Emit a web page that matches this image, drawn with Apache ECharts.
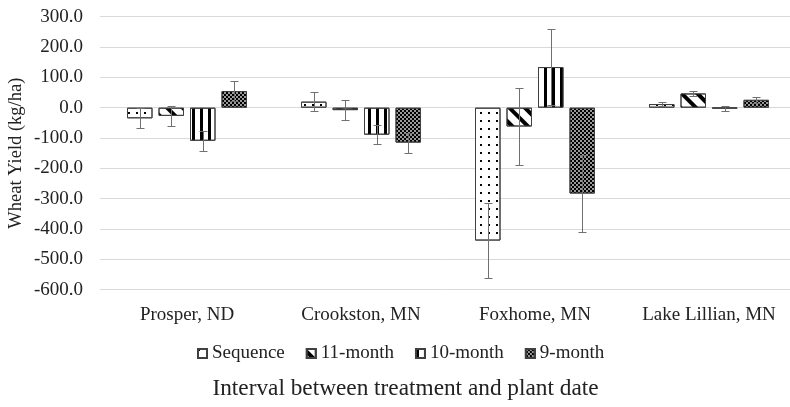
<!DOCTYPE html>
<html><head><meta charset="utf-8">
<script src="https://cdn.jsdelivr.net/npm/echarts@6/dist/echarts.min.js"></script>
<style>html,body{margin:0;padding:0;background:#fff}#c{width:790px;height:407px}</style>
</head><body><div id="c"></div>
<script>
const categories = ['Prosper, ND', 'Crookston, MN', 'Foxhome, MN', 'Lake Lillian, MN'];
const seriesNames = ['Sequence', '11-month', '10-month', '9-month'];
const sequence = [-35, 20, -438, 12];
const month11 = [-27, -8, -62, 47];
const month10 = [-109, -89, 134, -2];
const month9 = [55, -115, -283, 26];
const errSequence = [33, 32.5, 125, 8];
const err11 = [33, 32, 125.5, 8.5];
const err10 = [33.5, 32, 126, 8];
const err9 = [32, 33, 126, 9];
const yMin = -600, yMax = 300, yStep = 100;

const FONT = 'Liberation Serif';
const BAR_W = 25.5, BAR_GAP = 6;
const values = [sequence, month11, month10, month9];
const errs = [errSequence, err11, err10, err9];
const fills = ['#fff', '#fff', '#fff', '#999'];
const decals = [
  { symbol: 'rect', symbolSize: 1, color: '#000', dashArrayX: [1.5, 6], dashArrayY: [1.5, 6] },
  { symbol: 'rect', symbolSize: 1, color: '#000', dashArrayX: [1, 0], dashArrayY: [4, 6.5], rotation: Math.PI / 4 },
  { symbol: 'rect', symbolSize: 1, color: '#000', dashArrayX: [2.5, 4.2], dashArrayY: [1, 0] },
  { symbol: 'rect', symbolSize: 1, color: '#000', dashArrayX: [[1.5, 1.5], [0, 1.5, 1.5, 0]], dashArrayY: [1.5, 0] }
];

const series = [];
seriesNames.forEach((n, i) => {
  series.push({
    name: n, type: 'bar', data: values[i],
    barWidth: BAR_W, barGap: (BAR_GAP / BAR_W * 100) + '%',
    itemStyle: { color: fills[i], borderColor: '#404040', borderWidth: 1, decal: decals[i] },
    emphasis: { disabled: true }, animation: false
  });
});
seriesNames.forEach((n, i) => {
  const off = (i - 1.5) * (BAR_W + BAR_GAP);
  series.push({
    name: 'err-' + n, type: 'custom', z: 10, animation: false, silent: true,
    data: values[i].map((v, k) => [k, v, errs[i][k]]),
    renderItem: function (params, api) {
      const k = api.value(0), v = api.value(1), e = api.value(2);
      const top = api.coord([k, v + e]);
      const bot = api.coord([k, v - e]);
      const x = Math.round(top[0] + off) + 0.5;
      const y1 = Math.round(top[1]) + 0.5, y2 = Math.round(bot[1]) + 0.5;
      const st = { stroke: '#707070', lineWidth: 1 };
      return { type: 'group', children: [
        { type: 'line', shape: { x1: x, y1: y1, x2: x, y2: y2 }, style: st },
        { type: 'line', shape: { x1: x - 4, y1: y1, x2: x + 4, y2: y1 }, style: st },
        { type: 'line', shape: { x1: x - 4, y1: y2, x2: x + 4, y2: y2 }, style: st }
      ]};
    }
  });
});

const chart = echarts.init(document.getElementById('c'), null, { renderer: 'canvas' });
chart.setOption({
  animation: false,
  backgroundColor: '#fff',
  grid: { left: 100, top: 16.7, width: 696, height: 273, containLabel: false, outerBoundsMode: 'none' },
  legend: {
    data: seriesNames, left: 192, top: 339, itemWidth: 9, itemHeight: 9, itemGap: 21,
    icon: 'rect', selectedMode: false,
    textStyle: { fontFamily: FONT, fontSize: 19, color: '#222' }
  },
  xAxis: {
    type: 'category', data: categories,
    axisLine: { show: false, onZero: false }, axisTick: { show: false },
    axisLabel: { fontFamily: FONT, fontSize: 19, color: '#222', margin: 16, interval: 0 },
    splitLine: { show: false }
  },
  yAxis: {
    type: 'value', min: yMin, max: yMax, interval: yStep,
    name: 'Wheat Yield (kg/ha)', nameLocation: 'middle', nameGap: 74, nameRotate: 90,
    nameMoveOverlap: false,
    nameTextStyle: { fontFamily: FONT, fontSize: 18.5, color: '#222' },
    axisLine: { show: false }, axisTick: { show: false },
    axisLabel: { fontFamily: FONT, fontSize: 19, color: '#222', margin: 17, formatter: v => v.toFixed(1) },
    splitLine: { lineStyle: { color: '#d9d9d9', width: 1 } }
  },
  graphic: [{
    type: 'text', x: 405.5, y: 389,
    style: { text: 'Interval between treatment and plant date', fontFamily: FONT, fontSize: 23.3, fill: '#222', textAlign: 'center', textVerticalAlign: 'middle' }
  }],
  series: series
});
</script></body></html>
